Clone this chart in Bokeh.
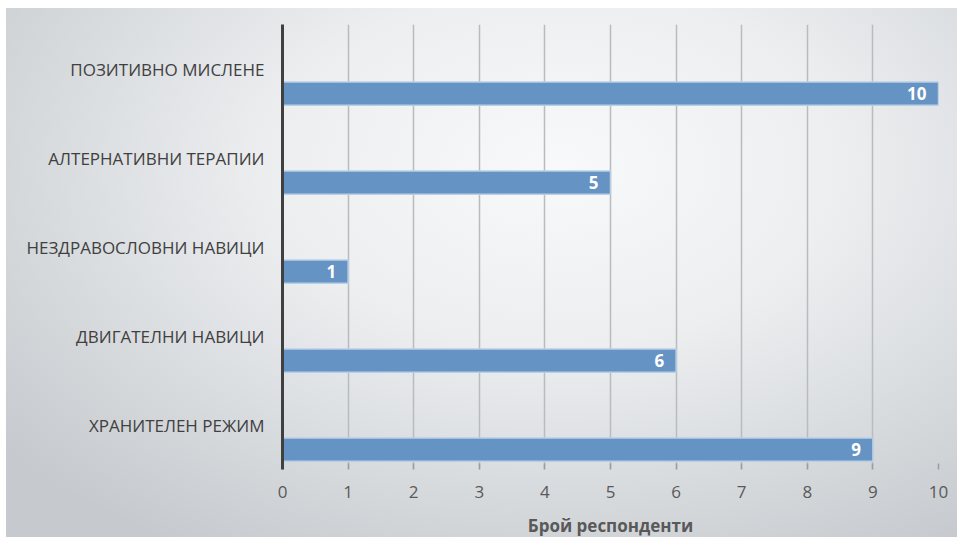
from bokeh.plotting import figure
from bokeh.models import FixedTicker, Range1d, ColumnDataSource, InlineStyleSheet
from bokeh.core.properties import value
from bokeh.embed import file_html
from bokeh.resources import INLINE

categories = ["ХРАНИТЕЛЕН РЕЖИМ", "ДВИГАТЕЛНИ НАВИЦИ", "НЕЗДРАВОСЛОВНИ НАВИЦИ",
              "АЛТЕРНАТИВНИ ТЕРАПИИ", "ПОЗИТИВНО МИСЛЕНЕ"]
counts = [9, 6, 1, 5, 10]
x_ticks = [0, 1, 2, 3, 4, 5, 6, 7, 8, 9, 10]
x_title = "Брой респонденти"

FONT = "Open Sans"
pos = list(range(len(categories)))
bar_offset = -0.276
bar_h = 0.262

src = ColumnDataSource(dict(
    y=[i + bar_offset for i in pos],
    right=counts,
    label=[str(c) for c in counts],
))

p = figure(output_backend="svg", toolbar_location=None,
           frame_width=656, frame_height=445,
           min_border_left=282, min_border_right=20,
           min_border_top=24, min_border_bottom=70,
           x_range=Range1d(0, 10), y_range=Range1d(-0.5, 4.5))

css = """
:host {
  background: radial-gradient(ellipse 75% 85% at 58% 30%, #f8f9fa 0%, #eceef0 40%, #d6d9dc 75%, #c6c9cd 100%) 6px 8px / 951px 529px no-repeat, #ffffff;
}
"""
p.stylesheets = [InlineStyleSheet(css=css)]
p.background_fill_alpha = 0
p.border_fill_alpha = 0
p.outline_line_color = None

p.hbar(y="y", right="right", left=0, height=bar_h, source=src,
       fill_color="#6593C3", line_color="#B9CFE6", line_width=1.5)

p.text(x="right", y="y", text="label", source=src,
       text_align="right", text_baseline="middle", x_offset=-12,
       text_color="white", text_font=value(FONT), text_font_style="bold",
       text_font_size="17px")

# x axis
p.xaxis.ticker = FixedTicker(ticks=x_ticks)
p.xaxis.axis_line_color = None
p.xaxis.major_tick_in = 6
p.xaxis.major_tick_out = 0
p.xaxis.major_tick_line_color = "#9a9da1"
p.xaxis.major_tick_line_width = 1.5
p.xaxis.minor_tick_line_color = None
p.xaxis.major_label_text_font = FONT
p.xaxis.major_label_text_font_size = "17px"
p.xaxis.major_label_text_color = "#595959"
p.xaxis.major_label_standoff = 16
p.xaxis.axis_label = x_title
p.xaxis.axis_label_text_font = FONT
p.xaxis.axis_label_text_font_size = "17px"
p.xaxis.axis_label_text_font_style = "bold"
p.xaxis.axis_label_text_color = "#595959"
p.xaxis.axis_label_standoff = 13

# y axis
p.yaxis.ticker = FixedTicker(ticks=pos)
p.yaxis.major_label_overrides = {i: c for i, c in zip(pos, categories)}
p.yaxis.axis_line_color = "#404040"
p.yaxis.axis_line_width = 3
p.yaxis.major_tick_line_color = None
p.yaxis.minor_tick_line_color = None
p.yaxis.major_label_text_font = FONT
p.yaxis.major_label_text_font_size = "17px"
p.yaxis.major_label_text_color = "#404040"
p.yaxis.major_label_standoff = 12

p.xgrid.grid_line_color = "#b8bbbf"
p.xgrid.grid_line_width = 1.5
p.xgrid.ticker = FixedTicker(ticks=x_ticks)
p.ygrid.grid_line_color = None

open("out.html", "w").write(file_html(p, INLINE))
